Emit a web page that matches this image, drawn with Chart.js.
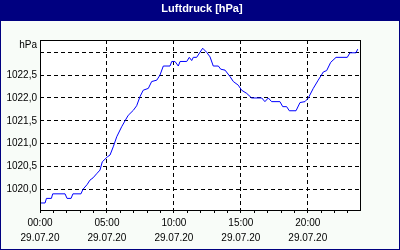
<!DOCTYPE html>
<html>
<head>
<meta charset="utf-8">
<script src="https://cdn.jsdelivr.net/npm/chart.js@4"></script>
<style>
  body { margin: 0; background: #fff; }
  canvas { display: block; }
</style>
</head>
<body>
<canvas id="luftdruck" width="400" height="250"></canvas>
<script>
// Stunden seit 00:00 am 29.07.20
var hours = [0.05, 0.38, 0.48, 0.85, 0.95, 1.87, 2.02, 2.32, 2.46, 3.06, 3.21, 3.51, 3.73, 3.96, 4.26, 4.48,
  4.65, 5.03, 5.23, 5.47, 5.73, 6.1, 6.35, 6.59, 6.97, 7.22, 7.47, 7.71, 8.09, 8.34, 8.72, 8.96,
  9.21, 9.71, 9.84, 10.08, 10.33, 10.46, 10.96, 11.15, 11.33, 11.45, 11.7, 12.15, 12.45, 12.7,
  12.94, 13.32, 13.5, 13.82, 14.19, 14.44, 14.81, 15.06, 15.44, 15.81, 16.56, 16.8, 17.05, 17.3,
  17.92, 18.13, 18.42, 18.62, 19.12, 19.42, 19.79, 20.04, 20.41, 20.78, 21.16, 21.41, 21.71,
  22.11, 22.95, 23.15, 23.6, 23.73];
// Luftdruck in hPa
var pressure = [1019.7, 1019.7, 1019.8, 1019.8, 1019.9, 1019.9, 1019.8, 1019.8, 1019.9, 1019.9, 1020.0, 1020.1,
  1020.2, 1020.25, 1020.35, 1020.42, 1020.6, 1020.71, 1020.75, 1020.93, 1021.15, 1021.37, 1021.5,
  1021.62, 1021.73, 1021.83, 1022.03, 1022.17, 1022.21, 1022.36, 1022.39, 1022.5, 1022.7, 1022.7,
  1022.8, 1022.8, 1022.7, 1022.8, 1022.8, 1022.89, 1022.82, 1022.89, 1022.89, 1023.09, 1023.0,
  1022.9, 1022.7, 1022.7, 1022.63, 1022.61, 1022.47, 1022.36, 1022.28, 1022.17, 1022.1, 1022.0,
  1022.0, 1021.92, 1022.0, 1021.92, 1021.92, 1021.81, 1021.81, 1021.72, 1021.72, 1021.9, 1021.92,
  1022.0, 1022.21, 1022.39, 1022.57, 1022.6, 1022.78, 1022.89, 1022.89, 1022.99, 1022.99, 1023.07];
var yTicks = [1020.0, 1020.5, 1021.0, 1021.5, 1022.0, 1022.5, 1023.0];
var dateLabel = '29.07.20';
var titleText = 'Luftdruck [hPa]';
var unitText = 'hPa';

var tickFont = { family: 'Liberation Sans', size: 10, lineHeight: '15px' };

// frame, title bar, plot border
var frame = {
  id: 'frame',
  beforeDraw(chart) {
    const { ctx, chartArea: { top, bottom, left, right } } = chart;
    ctx.save();
    ctx.fillStyle = '#f8fcf8';
    ctx.fillRect(0, 0, 400, 250);
    ctx.fillStyle = '#ffffff';
    ctx.fillRect(left, top, right - left, bottom - top);
    ctx.fillStyle = '#000080';
    ctx.fillRect(0, 0, 400, 21);
    ctx.fillRect(0, 0, 1, 250);
    ctx.fillRect(399, 0, 1, 250);
    ctx.fillRect(0, 249, 400, 1);
    ctx.restore();
  },
  afterDraw(chart) {
    const { ctx, chartArea: { top, bottom, left, right } } = chart;
    ctx.save();
    ctx.strokeStyle = '#000';
    ctx.lineWidth = 1;
    ctx.strokeRect(left + 0.5, top + 0.5, right - left, bottom - top);

    ctx.fillStyle = '#fff';
    ctx.font = 'bold 11px "Liberation Sans"';
    ctx.textAlign = 'center';
    ctx.textBaseline = 'middle';
    ctx.fillText(titleText, 202, 9);

    ctx.fillStyle = '#000';
    ctx.font = '10px "Liberation Sans"';
    ctx.textAlign = 'right';
    ctx.fillText(unitText, 37, 45);
    ctx.restore();
  }
};

var luftdruckConfig = {
  type: 'line',
  data: {
    datasets: [{
      data: hours.map((h, i) => ({ x: h, y: pressure[i] })),
      borderColor: '#0000ff',
      borderWidth: 1,
      pointRadius: 0,
      tension: 0,
      fill: false
    }]
  },
  options: {
    responsive: false,
    animation: false,
    layout: { padding: { left: 0, right: 40, top: 40, bottom: 0 } },
    plugins: {
      legend: { display: false },
      tooltip: { enabled: false },
      title: { display: false }
    },
    scales: {
      x: {
        type: 'linear',
        min: 0,
        max: 23.9,
        afterFit(scale) { scale.height = 40; },
        border: { display: false, dash: [4, 3] },
        grid: {
          color: (c) => (c.tick && c.tick.value % 5 === 0) ? '#000' : 'rgba(0,0,0,0)',
          tickColor: '#000',
          tickLength: 3,
          tickBorderDash: []
        },
        ticks: {
          stepSize: 1,
          includeBounds: false,
          autoSkip: false,
          maxRotation: 0,
          padding: 3,
          color: '#000',
          font: tickFont,
          callback: (v) => v % 5 === 0 ? [String(v).padStart(2, '0') + ':00', dateLabel] : ''
        }
      },
      y: {
        min: 1019.546,
        max: 1023.27,
        afterFit(scale) { scale.width = 40; },
        afterBuildTicks(scale) { scale.ticks = yTicks.map(v => ({ value: v })); },
        border: { display: false, dash: [4, 3] },
        grid: { color: '#000', drawTicks: false },
        ticks: {
          padding: 3,
          color: '#000',
          font: tickFont,
          callback: (v) => v === 1023 ? '' : v.toFixed(1).replace('.', ',')
        }
      }
    }
  },
  plugins: [frame]
};

var luftdruckChart = new Chart(document.getElementById('luftdruck'), luftdruckConfig);
</script>
</body>
</html>
